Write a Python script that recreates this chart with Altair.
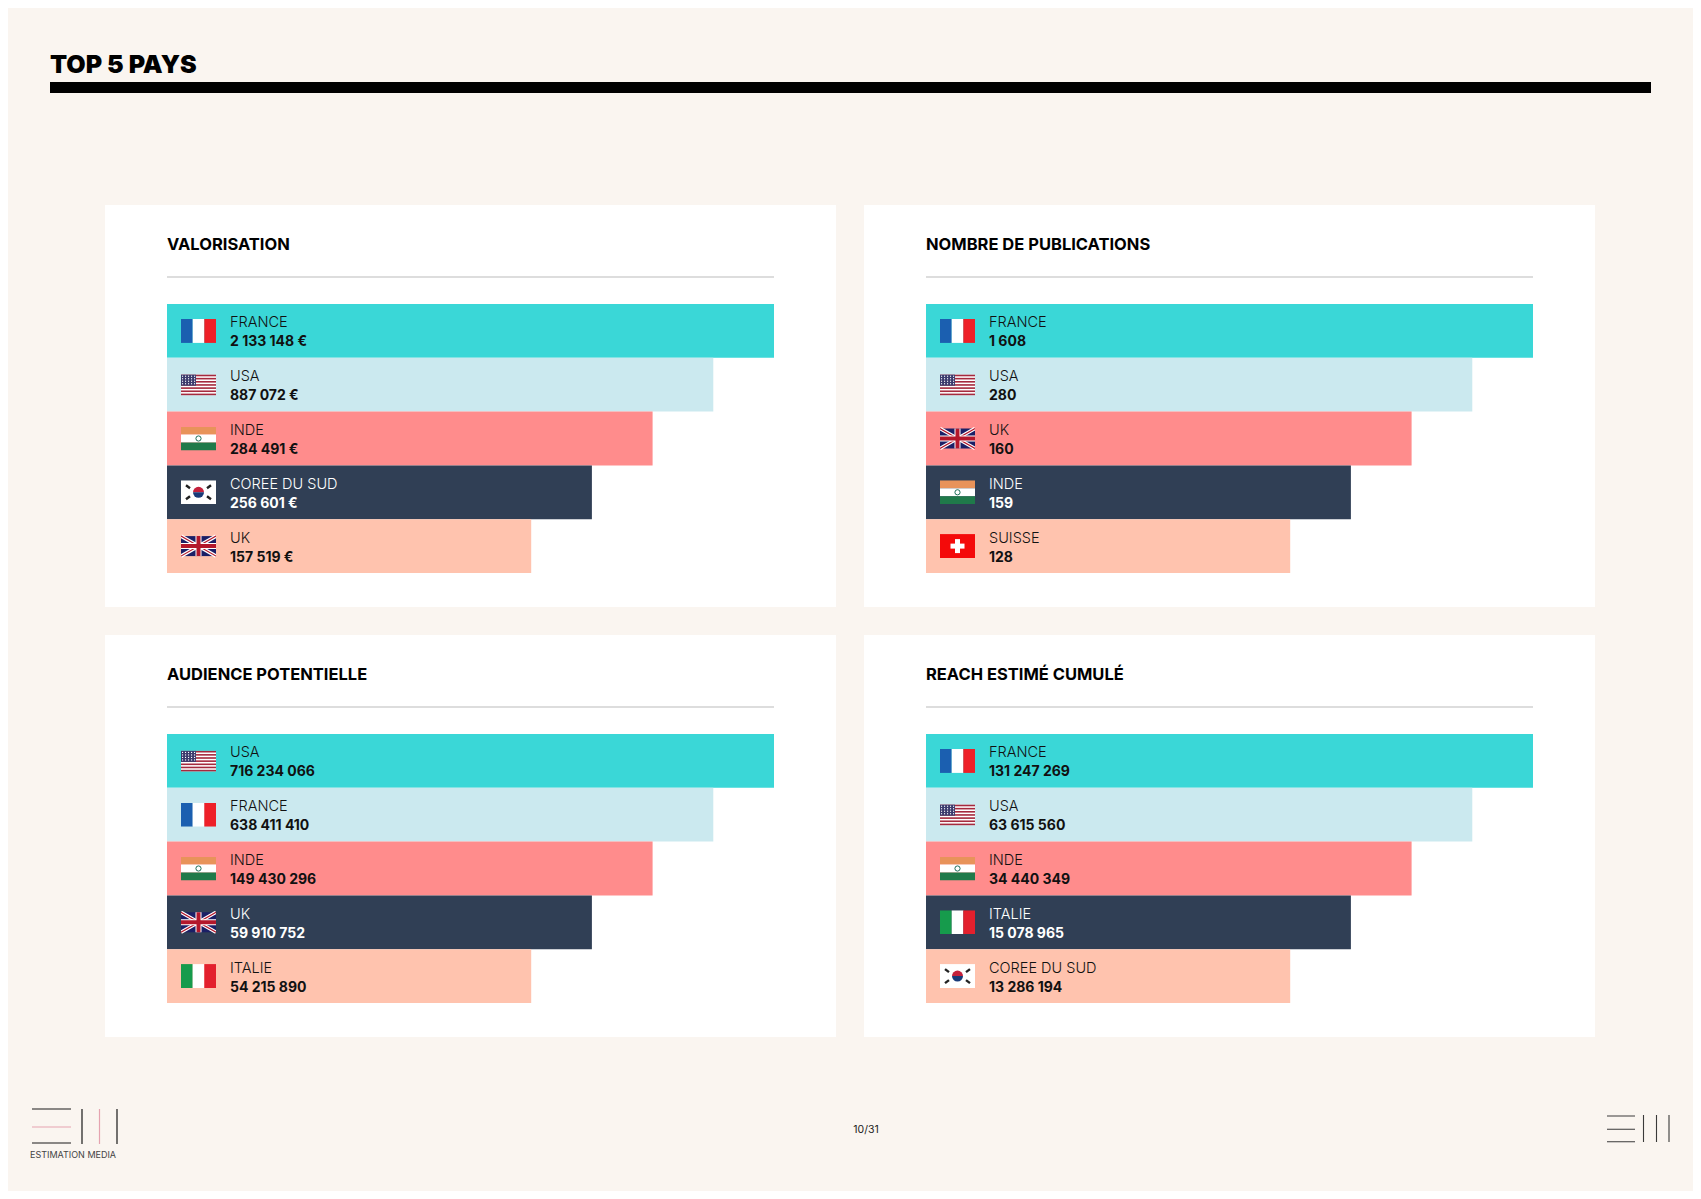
import base64
import altair as alt
import pandas as pd

PAGE_BG = "#FAF5F0"
FONT = "Inter"
PANEL_TITLES = ["VALORISATION", "NOMBRE DE PUBLICATIONS", "AUDIENCE POTENTIELLE", "REACH ESTIMÉ CUMULÉ"]
COUNTRIES = [
    ["FRANCE", "USA", "INDE", "COREE DU SUD", "UK"],
    ["FRANCE", "USA", "UK", "INDE", "SUISSE"],
    ["USA", "FRANCE", "INDE", "UK", "ITALIE"],
    ["FRANCE", "USA", "INDE", "ITALIE", "COREE DU SUD"],
]
VALUES = [
    ["2 133 148 €", "887 072 €", "284 491 €", "256 601 €", "157 519 €"],
    ["1 608", "280", "160", "159", "128"],
    ["716 234 066", "638 411 410", "149 430 296", "59 910 752", "54 215 890"],
    ["131 247 269", "63 615 560", "34 440 349", "15 078 965", "13 286 194"],
]
BAR_LENGTHS = [100, 90, 80, 70, 60]
BAR_COLORS = ["#3AD7D7", "#CBE9EF", "#FF8C8C", "#303F55", "#FFC3AE"]
TEXT_COLORS = ["#111111", "#111111", "#111111", "#FFFFFF", "#111111"]


def svg_uri(body, w=35, h=24):
    svg = f'<svg xmlns="http://www.w3.org/2000/svg" width="{w}" height="{h}" viewBox="0 0 {w} {h}">{body}</svg>'
    return "data:image/svg+xml;base64," + base64.b64encode(svg.encode()).decode()


def us():
    s = '<rect y="2" width="35" height="20.5" fill="#fff"/>'
    for i in range(7):
        s += f'<rect y="{2 + i * 3.15:.2f}" width="35" height="1.6" fill="#A52A3E"/>'
    s += '<rect y="2" width="15" height="11" fill="#3C3B6E"/>'
    for r in range(4):
        for c in range(5):
            s += f'<rect x="{1 + c * 3}" y="{3 + r * 2.5}" width="1.1" height="1.1" fill="#fff"/>'
    return s


def uk():
    return ('<rect y="2" width="35" height="20" fill="#1B1F66"/>'
            '<path d="M0 2L35 22M35 2L0 22" stroke="#fff" stroke-width="3.6"/>'
            '<path d="M0 2L35 22M35 2L0 22" stroke="#B3172B" stroke-width="1.2"/>'
            '<path d="M17.5 2V22M0 12H35" stroke="#fff" stroke-width="6"/>'
            '<path d="M17.5 2V22M0 12H35" stroke="#B3172B" stroke-width="4"/>')


FLAGS = {
    "FRANCE": '<rect width="11.7" height="24" fill="#1B5FB0"/><rect x="11.7" width="11.7" height="24" fill="#fff"/>'
              '<rect x="23.3" width="11.7" height="24" fill="#EE2028"/>',
    "USA": us(),
    "INDE": '<rect width="35" height="8" fill="#E8935A"/><rect y="8" width="35" height="8" fill="#fff"/>'
            '<rect y="16" width="35" height="8" fill="#1F7A4A"/><circle cx="17.5" cy="12" r="2.6" fill="none" '
            'stroke="#1F6F5A" stroke-width="1"/>',
    "COREE DU SUD": '<rect width="35" height="24" fill="#fff"/><path d="M12 12a5.5 5.5 0 0 1 11 0z" fill="#C4213C"/>'
                    '<path d="M12 12a5.5 5.5 0 0 0 11 0z" fill="#183A78"/>'
                    '<path d="M5 5l4 3M26 8l4-3M5 19l4-3M26 16l4 3" stroke="#222" stroke-width="2.4"/>',
    "UK": uk(),
    "SUISSE": '<rect width="35" height="24" fill="#F40A0A"/><rect x="15" y="5" width="5" height="14" fill="#fff"/>'
              '<rect x="10.5" y="9.5" width="14" height="5" fill="#fff"/>',
    "ITALIE": '<rect width="11.7" height="24" fill="#169B4C"/><rect x="11.7" width="11.7" height="24" fill="#fff"/>'
              '<rect x="23.3" width="11.7" height="24" fill="#E3202D"/>',
}

LOGO_LEFT = svg_uri(
    '<path d="M2 6H41M2 40H41M52 6V41M87 6V41" stroke="#1a1a1a" stroke-width="1.2"/>'
    '<path d="M2 24H41M69.5 6V41" stroke="#E5A3B0" stroke-width="1.2"/>',
    90, 44)
LOGO_RIGHT = svg_uri(
    '<path d="M1 2H29M1 15.3H29M1 27.8H29M37.5 1V28M50.5 1V28M63 1V28" stroke="#3a3a3a" stroke-width="1.1"/>',
    66, 30)


def panel(i):
    df = pd.DataFrame({
        "rank": list(range(5)),
        "len": BAR_LENGTHS,
        "country": COUNTRIES[i],
        "value": VALUES[i],
        "flag": [svg_uri(FLAGS[c]) for c in COUNTRIES[i]],
        "bar_color": BAR_COLORS,
        "text_color": TEXT_COLORS,
    })
    y = alt.Y("rank:O", axis=None, scale=alt.Scale(range=[99, 368], paddingInner=0, paddingOuter=0))
    x = alt.X("len:Q", axis=None, scale=alt.Scale(domain=[0, 100], range=[62, 669]))
    tcolor = alt.Color("text_color:N", legend=None, scale=None)
    base = alt.Chart(df)
    bars = base.mark_bar(size=53.8).encode(x=x, y=y, color=alt.Color("bar_color:N", legend=None, scale=None))
    flags = base.mark_image(width=35, height=24).encode(x=alt.value(93.5), y=y, url="flag:N")
    names = base.mark_text(align="left", font=FONT, fontSize=14.5, fontWeight=300, dy=-3.5, baseline="alphabetic").encode(
        x=alt.value(125), y=y, text="country:N", color=tcolor)
    vals = base.mark_text(align="left", font=FONT, fontSize=14, fontWeight=700, dy=15.5, baseline="alphabetic").encode(
        x=alt.value(125), y=y, text="value:N", color=tcolor)
    head = alt.Chart(pd.DataFrame({"t": [PANEL_TITLES[i]]})).mark_text(
        align="left", baseline="alphabetic", font=FONT, fontSize=16.5, fontWeight=700, color="#000000",
    ).encode(x=alt.value(62), y=alt.value(45), text="t:N")
    sep = alt.Chart(pd.DataFrame({"t": [0]})).mark_rule(color="#DDDDDD", strokeWidth=2).encode(
        x=alt.value(62), x2=alt.value(669), y=alt.value(72))
    return alt.layer(bars, flags, names, vals, head, sep).properties(
        width=731, height=402, view=alt.ViewConfig(fill="#FFFFFF", stroke=None))


d = pd.DataFrame({"t": ["TOP 5 PAYS"]})
header = alt.layer(
    alt.Chart(d).mark_text(align="left", baseline="alphabetic", font=FONT, fontSize=25, fontWeight=900, color="#000000")
    .encode(x=alt.value(42), y=alt.value(65), text="t:N"),
    alt.Chart(d).mark_rule(color="#000000", strokeWidth=11).encode(x=alt.value(42), x2=alt.value(1643), y=alt.value(79.5)),
).properties(width=1685, height=197, view=alt.ViewConfig(fill=None, stroke=None))

spacer = alt.Chart(d).mark_rect(opacity=0).encode(
    x=alt.value(0), x2=alt.value(1), y=alt.value(0), y2=alt.value(1)).properties(
    width=69, height=10, view=alt.ViewConfig(fill=None, stroke=None))

grid = alt.hconcat(
    spacer,
    alt.vconcat(panel(0), panel(2), spacing=28),
    alt.vconcat(panel(1), panel(3), spacing=28),
    spacing=28,
)

fdf = pd.DataFrame({"left": [LOGO_LEFT], "right": [LOGO_RIGHT], "brand": ["ESTIMATION MEDIA"], "page": ["10/31"]})
footer = alt.layer(
    alt.Chart(fdf).mark_image(width=90, height=44, align="left", baseline="top").encode(
        x=alt.value(22), y=alt.value(66), url="left:N"),
    alt.Chart(fdf).mark_image(width=66, height=30, align="left", baseline="top").encode(
        x=alt.value(1598), y=alt.value(77), url="right:N"),
    alt.Chart(fdf).mark_text(align="left", baseline="alphabetic", font=FONT, fontSize=9, color="#444444").encode(
        x=alt.value(22), y=alt.value(121), text="brand:N"),
    alt.Chart(fdf).mark_text(align="center", baseline="alphabetic", font=FONT, fontSize=10.5, color="#222222").encode(
        x=alt.value(858), y=alt.value(96), text="page:N"),
).properties(width=1685, height=154, view=alt.ViewConfig(fill=None, stroke=None))

chart = alt.vconcat(header, grid, footer, spacing=0).properties(padding=0, background=PAGE_BG).configure_view(stroke=None)

chart.save("out.html", embed_options={"renderer": "svg", "actions": False})
